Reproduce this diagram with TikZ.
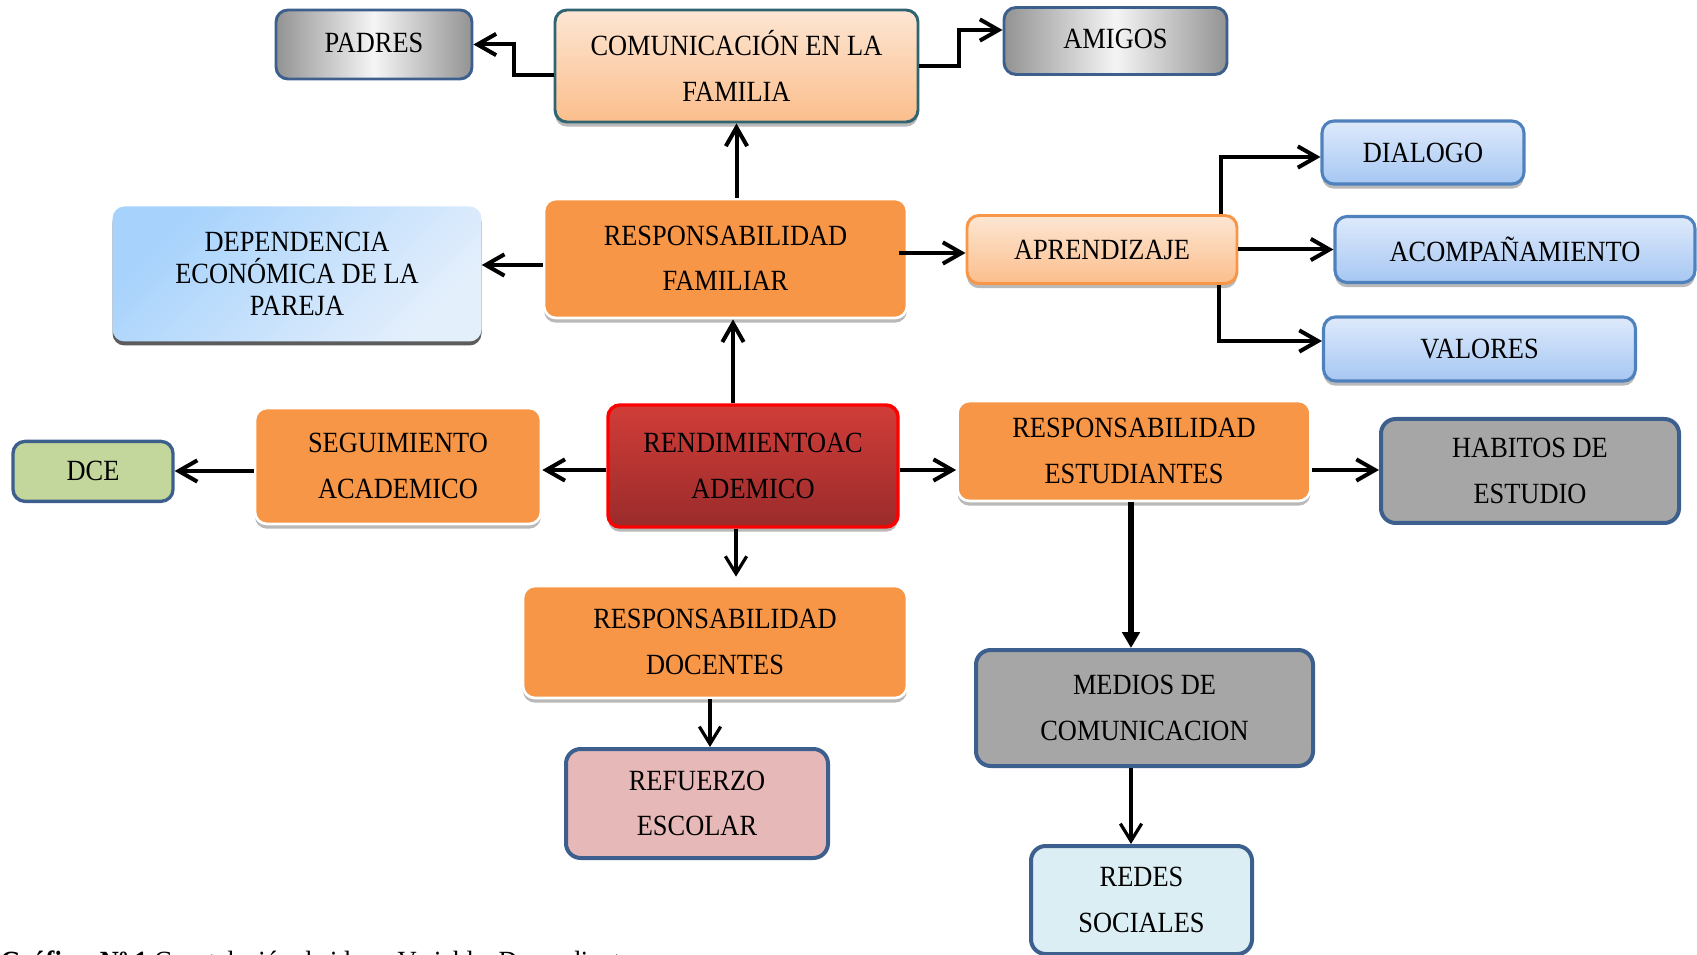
\documentclass[tikz,border=0pt]{standalone}
\usepackage{fontspec}
\setmainfont{Liberation Serif}[FakeStretch=0.9]
\usetikzlibrary{arrows.meta,shadows,calc}
\definecolor{orng}{HTML}{F79646}
\definecolor{peachT}{HTML}{FDE6D3}
\definecolor{peachB}{HTML}{FBBE8C}
\definecolor{tealB}{HTML}{2F6470}
\definecolor{navyB}{HTML}{3C5F8D}
\definecolor{blueB}{HTML}{4F81BD}
\definecolor{blueT}{HTML}{DEEAFB}
\definecolor{blueBt}{HTML}{A6C7F3}
\definecolor{depA}{HTML}{A6D2FC}
\definecolor{depB}{HTML}{E4EFFC}
\definecolor{redT}{HTML}{D13D38}
\definecolor{redB}{HTML}{9A2B2B}
\definecolor{grayF}{HTML}{A6A6A6}
\definecolor{greenF}{HTML}{C3D69B}
\definecolor{pinkF}{HTML}{E6B9B8}
\definecolor{cyanF}{HTML}{DBEEF4}
\begin{document}
\begin{tikzpicture}[x=0.75pt,y=-0.75pt,
  box/.style={rounded corners=9pt, align=center, inner sep=0pt,
    font=\fontsize{22pt}{34pt}\selectfont},
  tight/.style={font=\fontsize{22pt}{24pt}\selectfont},
  sz/.style 2 args={minimum width=#1*0.75pt, minimum height=#2*0.75pt},
  shad/.style={general shadow={fill=gray!55, shadow yshift=-3.5pt}},
  orbox/.style={box, shad, fill=orng, draw=white, line width=2pt},
  peachbox/.style={box, shad, top color=peachT, bottom color=peachB, line width=2.2pt},
  graygrad/.style={box, left color=gray!85, right color=gray!85, middle color=gray!8,
    draw=navyB, line width=2.2pt},
  bluebox/.style={box, shad, top color=blueT, bottom color=blueBt, draw=blueB, line width=2.3pt},
  solidbox/.style={box, rounded corners=11pt, draw=navyB, line width=3pt},
  arr/.style={draw, line width=3pt, -{Straight Barb[length=14pt,width=16pt]}},
  thinarr/.style={draw, line width=2.4pt, -{Straight Barb[length=13pt,width=16pt]}}
]
\useasboundingbox (0,0) rectangle (1697,955);
% nodes
\node[graygrad, sz={196}{69}] (padres) at (374,44.5) {\raisebox{3pt}{PADRES}};
\node[peachbox, draw=tealB, sz={363}{112}] (com) at (736.5,66) {COMUNICACIÓN EN LA\\FAMILIA};
\node[graygrad, sz={223}{67}] (amigos) at (1115.5,41) {\raisebox{3pt}{AMIGOS}};
\node[box, tight, general shadow={fill=gray!40!black!80, shadow yshift=-3pt},
  top color=depA, bottom color=depB, shading angle=45, sz={369}{135}] (dep) at (297,274)
  {DEPENDENCIA\\ECONÓMICA DE LA\\PAREJA};
\node[orbox, sz={363}{119}] (resfam) at (725.5,258.5) {RESPONSABILIDAD\\FAMILIAR};
\node[peachbox, draw=orng, sz={270}{68}] (aprend) at (1102,249.5) {APRENDIZAJE};
\node[bluebox, sz={202}{63}] (dialogo) at (1423,152.5) {DIALOGO};
\node[bluebox, sz={360}{66}] (acomp) at (1515,249.5) {ACOMPAÑAMIENTO};
\node[bluebox, sz={312}{64}] (valores) at (1479.5,349) {VALORES};
\node[orbox, sz={286}{116}] (seg) at (398,466) {SEGUIMIENTO\\ACADEMICO};
\node[box, fill=greenF, draw=navyB, line width=2.5pt, sz={160}{60}] (dce) at (93,471.4) {DCE};
\node[box, shad, top color=redT, bottom color=redB, draw=red, line width=2.6pt,
  sz={290}{122}] (rend) at (753,466) {RENDIMIENTOAC\\ADEMICO};
\node[orbox, sz={353}{100}] (resest) at (1134,451) {RESPONSABILIDAD\\ESTUDIANTES};
\node[solidbox, fill=grayF, sz={298}{104}] (hab) at (1530,471) {HABITOS DE\\ESTUDIO};
\node[orbox, sz={384}{112}] (resdoc) at (715,642) {RESPONSABILIDAD\\DOCENTES};
\node[solidbox, fill=grayF, sz={337}{116}] (medios) at (1144.5,708) {MEDIOS DE\\COMUNICACION};
\node[solidbox, fill=pinkF, sz={262}{109}] (ref) at (697,803.5) {REFUERZO\\ESCOLAR};
\node[solidbox, fill=cyanF, sz={221}{108}] (redes) at (1141.5,900) {REDES\\SOCIALES};
\node[anchor=base west, inner sep=0pt, font=\fontsize{22pt}{24pt}\selectfont] (cap) at (0,971)
  {\textbf{Gráfico~~Nº~1} Constelación de ideas~~Variable~~Dependiente};
% connectors
\draw[arr] (com.west |- 0,75) -- (514,75) |- (padres.east);
\draw[arr] (com.east) -- (959,66) |- (amigos.west |- 0,30);
\draw[arr] (com.south |- resfam.north) -- (com.south);
\draw[arr] (resfam.west |- 0,265) -- (dep.east |- 0,265);
\draw[arr] (899,253) -- (aprend.west |- 0,253);
\draw[arr] (aprend.north -| 1221,0) |- (dialogo.west |- 0,157);
\draw[arr] (aprend.east) -- (acomp.west);
\draw[arr] (aprend.south -| 1219,0) |- (valores.west |- 0,341);
\draw[arr] (rend.north -| 733,0) -- (resfam.south -| 733,0);
\draw[arr] (rend.west |- 0,470) -- (seg.east |- 0,470);
\draw[arr] (seg.west |- 0,471) -- (dce.east |- 0,471);
\draw[arr] (rend.east |- 0,470) -- (resest.west |- 0,470);
\draw[arr] (resest.east |- 0,470) -- (hab.west |- 0,470);
\draw[thinarr, shorten >=6pt] (rend.south -| 736,0) -- (resdoc.north -| 736,0);
\draw[thinarr] (resdoc.south -| 710,0) -- (ref.north -| 710,0);
\draw[line width=4pt, -{Triangle[length=12pt,width=13pt]}] (resest.south -| 1131,0) -- (medios.north -| 1131,0);
\draw[thinarr] (medios.south -| 1131,0) -- (redes.north -| 1131,0);
\end{tikzpicture}
\end{document}
